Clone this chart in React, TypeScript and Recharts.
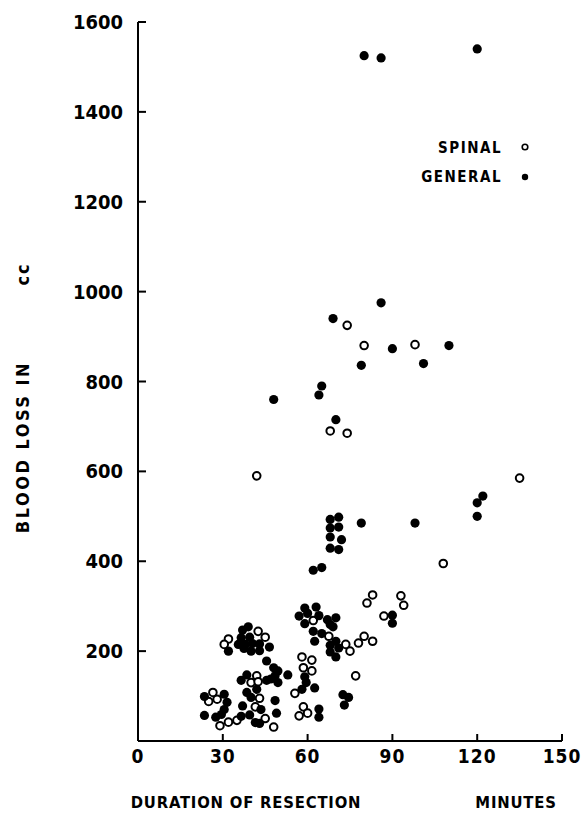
import { ScatterChart, Scatter, XAxis, YAxis, Legend, Label } from 'recharts';

// tick values
const xTicks = [0, 30, 60, 90, 120, 150];
const yTicks = [200, 400, 600, 800, 1000, 1200, 1400, 1600];

// [duration in minutes, blood loss in cc]
const spinal: [number, number][] = [
  [74, 925], [80, 880], [98, 882], [68, 690], [74, 685], [108, 395], [135, 585], [42, 590],
  [83, 325], [93, 323], [81, 307], [94, 302], [87, 278], [80, 233], [83, 222], [78, 218],
  [62, 268], [67.5, 233], [73.5, 215], [75, 200], [58, 187], [61.5, 180], [58.5, 163], [61.5, 156],
  [55.5, 106], [77, 145], [58.5, 76], [57, 56], [60, 62],
  [32, 227], [30.5, 215], [42.5, 244], [45, 231],
  [42, 145], [40, 130], [42.5, 132], [43, 95], [41.5, 76], [35, 46], [45, 50], [48, 31],
  [26.5, 108], [25, 88], [28, 93], [29, 34], [32, 42],
];

const general: [number, number][] = [
  [80, 1525], [86, 1520], [120, 1540],
  [86, 975], [69, 940], [90, 873], [110, 880], [79, 836], [101, 840],
  [65, 790], [64, 770], [48, 760], [70, 715],
  [68, 493], [71, 498], [68, 474], [71, 476], [68, 454], [72, 448], [68, 429], [71, 426],
  [79, 485], [98, 485], [62, 380], [65, 386],
  [122, 545], [120, 530], [120, 500],
  [59, 296], [63, 298], [57, 278], [60, 284], [64, 279], [59, 261], [67, 270], [70, 274],
  [68, 259], [69, 254], [62, 244], [65, 239], [62.5, 222], [70, 222], [68, 213], [71, 207],
  [68, 198], [70, 187], [90, 280], [90, 262],
  [53, 147], [59, 143], [59.5, 130], [58, 115], [62.5, 118], [72.5, 103], [74.5, 97], [73, 80],
  [64, 71], [64, 53],
  [39, 254], [37, 247], [36.5, 230], [39.5, 231], [35.5, 215], [38, 215], [40.5, 217], [43, 216],
  [46.5, 209], [32, 200], [37.5, 206], [40, 200], [43, 201],
  [45.5, 178], [48, 163], [49.5, 156], [48.5, 145], [49.5, 130], [47, 138], [38.5, 147],
  [36.5, 135], [45.5, 135], [42, 115], [38.5, 108], [40, 97], [37, 78], [43.5, 70], [48.5, 90],
  [49, 62], [39.5, 58], [36.5, 55], [41.5, 41], [43, 39],
  [23.5, 99], [30.5, 104], [31.5, 86], [30.5, 70], [23.5, 57], [27.5, 53], [29.5, 59],
];

const spinalData = spinal.map(([x, y]) => ({ x, y }));
const generalData = general.map(([x, y]) => ({ x, y }));

const font = '"DejaVu Sans Condensed", "DejaVu Sans", sans-serif';

const OpenDot = (props: any) => (
  <circle cx={props.cx} cy={props.cy} r={3.8} fill="#fff" stroke="#000" strokeWidth={2} />
);
const FilledDot = (props: any) => (
  <circle cx={props.cx} cy={props.cy} r={4.6} fill="#000" />
);

const LegendBox = () => (
  <svg width={115} height={55} style={{ fontFamily: font, fontWeight: 'bold' }}>
    <text x={82} y={13} textAnchor="end" dominantBaseline="central" fontSize={15} letterSpacing={1.5}>SPINAL</text>
    <circle cx={105} cy={12} r={2.8} fill="#fff" stroke="#000" strokeWidth={1.6} />
    <text x={82} y={42} textAnchor="end" dominantBaseline="central" fontSize={15} letterSpacing={1.5}>GENERAL</text>
    <circle cx={105} cy={42} r={3.2} fill="#000" />
  </svg>
);

export default function App() {
  return (
    <div style={{ position: 'absolute', left: 0, top: 0, width: 581, height: 821, background: '#fff' }}>
      <ScatterChart
        width={581}
        height={821}
        margin={{ top: 22, right: 19, left: 78, bottom: 50 }}
      >
        <XAxis
          type="number"
          dataKey="x"
          domain={[0, 150]}
          ticks={xTicks}
          height={30}
          stroke="#000"
          strokeWidth={2}
          tickLine={{ stroke: '#000', strokeWidth: 2 }}
          tickSize={-7}
          tickMargin={16}
          tick={{ fill: '#000', fontFamily: font, fontWeight: 'bold', fontSize: 19, letterSpacing: 1 }}
        >
          <Label
            content={() => (
              <g style={{ fontFamily: font, fontWeight: 'bold' }} fontSize={16.5} letterSpacing={0.8}>
                <text x={246} y={802} textAnchor="middle" dominantBaseline="central">DURATION OF RESECTION</text>
                <text x={516} y={802} textAnchor="middle" dominantBaseline="central">MINUTES</text>
              </g>
            )}
          />
        </XAxis>
        <YAxis
          type="number"
          dataKey="y"
          domain={[0, 1600]}
          ticks={yTicks}
          width={60}
          stroke="#000"
          strokeWidth={2}
          tickLine={{ stroke: '#000', strokeWidth: 2 }}
          tickSize={-8}
          tickMargin={23}
          tick={{ fill: '#000', fontFamily: font, fontWeight: 'bold', fontSize: 20 }}
        >
          <Label
            content={() => (
              <g style={{ fontFamily: font, fontWeight: 'bold' }}>
                <text x={22} y={447} transform="rotate(-90, 22, 447)" textAnchor="middle" dominantBaseline="central" fontSize={18} letterSpacing={2.5}>BLOOD LOSS IN</text>
                <text x={22} y={274} transform="rotate(-90, 22, 274)" textAnchor="middle" dominantBaseline="central" fontSize={18} letterSpacing={2}>cc</text>
              </g>
            )}
          />
        </YAxis>
        <Legend
          layout="vertical"
          align="center"
          verticalAlign="middle"
          content={LegendBox}
          wrapperStyle={{ left: 420, top: 135, width: 115 }}
        />
        <Scatter name="SPINAL" data={spinalData} shape={OpenDot} isAnimationActive={false} />
        <Scatter name="GENERAL" data={generalData} shape={FilledDot} isAnimationActive={false} />
      </ScatterChart>
    </div>
  );
}
